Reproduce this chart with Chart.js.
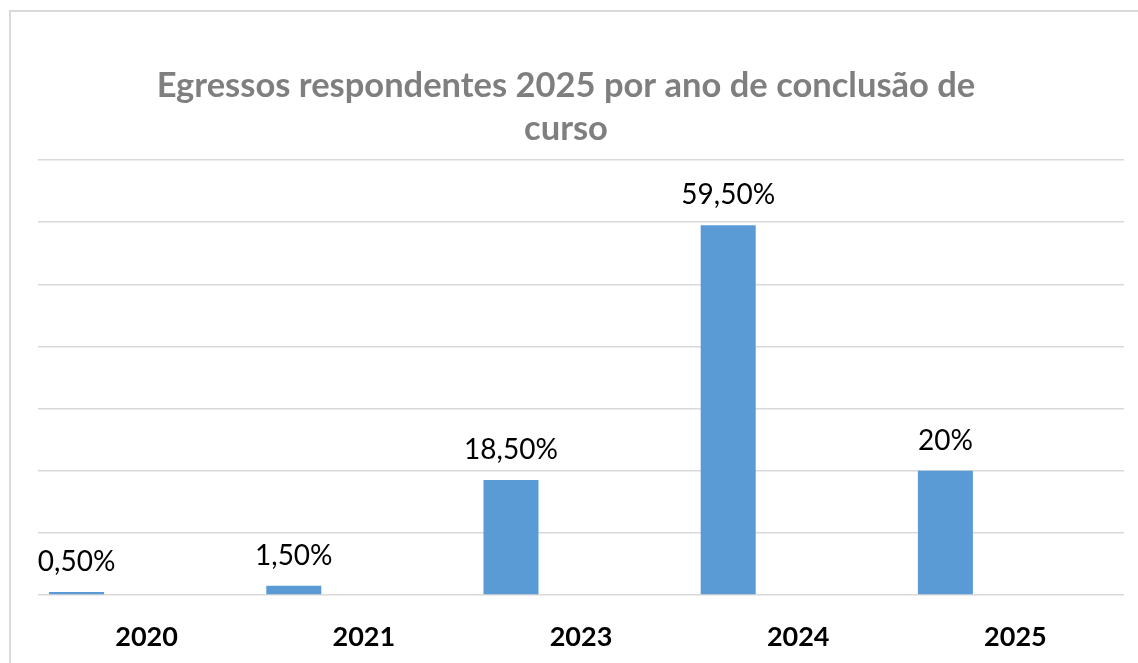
<!DOCTYPE html>
<html>
<head>
<meta charset="utf-8">
<script src="https://cdn.jsdelivr.net/npm/chart.js@4.4.0/dist/chart.umd.min.js"></script>
<style>
    body { margin: 0; background: #fff; overflow: hidden; }
    #moldura { position: absolute; left: 9px; top: 10px; width: 1150px; height: 700px; border: 2px solid #d9d9d9; box-sizing: border-box; }
    #grafico { position: absolute; left: 0; top: 0; }
</style>
</head>
<body>
<div id="moldura"></div>
<canvas id="grafico" width="1138" height="663"></canvas>
<script>
// dados do grafico
const anos = ['2020', '2021', '2023', '2024', '2025'];
const percentuais = [0.5, 1.5, 18.5, 59.5, 20];
const rotulos = ['0,50%', '1,50%', '18,50%', '59,50%', '20%'];
const tituloLinhas = ['Egressos respondentes 2025 por ano de conclusão de', 'curso'];
const vazio = [null, null, null, null, null];

const titulo = {
    id: 'titulo',
    afterDraw: (chart) => {
        const ctx = chart.ctx
        ctx.save()
        ctx.font = 'bold 34.5px Lato'
        ctx.fillStyle = '#7f7f7f'
        ctx.textAlign = 'center'
        ctx.textBaseline = 'middle'
        tituloLinhas.forEach((linha, i) => ctx.fillText(linha, 566, 86 + i * 43))
        ctx.restore()
    }
}

const rotulosBarras = {
    id: 'rotulosBarras',
    afterDatasetsDraw: (chart) => {
        const ctx = chart.ctx
        const meta = chart.getDatasetMeta(0)
        ctx.save()
        ctx.font = '28px Lato'
        ctx.fillStyle = '#000'
        ctx.textAlign = 'center'
        ctx.textBaseline = 'alphabetic'
        meta.data.forEach((barra, i) => {
            ctx.fillText(rotulos[i], barra.x, barra.y - 21)
        })
        ctx.restore()
    }
}

const ctx = document.getElementById('grafico').getContext('2d');
let grafico = new Chart(ctx, {
    type: 'bar',
    data: {
        labels: anos,
        datasets: [{
            label: 'Egressos',
            data: percentuais,
            backgroundColor: '#5b9bd5'
        }, {
            label: 'vazio1',
            data: vazio
        }, {
            label: 'vazio2',
            data: vazio
        }]
    },
    options: {
        responsive: false,
        animation: false,
        devicePixelRatio: 1,
        categoryPercentage: 0.967,
        barPercentage: 0.786,
        layout: {
            padding: { top: 160, left: 38, right: 14, bottom: 12 }
        },
        plugins: {
            legend: { display: false },
            tooltip: { enabled: false },
            title: { display: false }
        },
        scales: {
            x: {
                grid: { display: false },
                border: { display: false },
                afterFit: (scale) => { scale.height = 56 },
                ticks: {
                    color: '#000',
                    padding: 18,
                    font: { family: 'Lato', size: 27, weight: 'bold' }
                }
            },
            y: {
                min: 0,
                max: 70,
                ticks: { display: false, stepSize: 10 },
                grid: { color: '#d9d9d9', lineWidth: 1.5, drawTicks: false },
                border: { display: false }
            }
        }
    },
    plugins: [titulo, rotulosBarras]
});
</script>
</body>
</html>
